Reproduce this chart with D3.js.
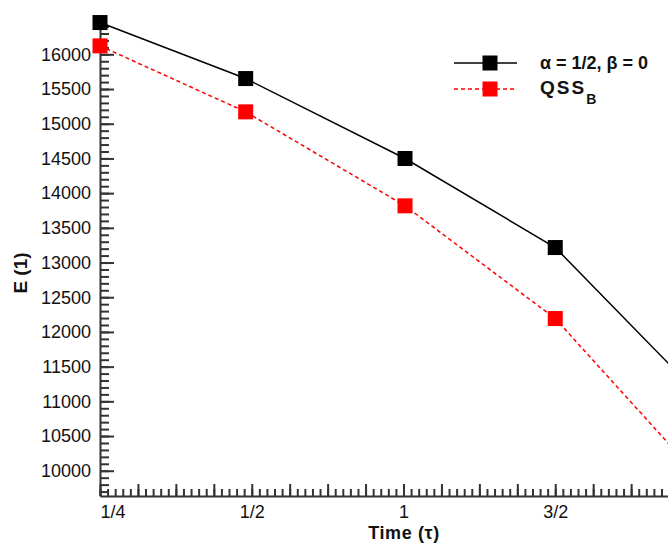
<!DOCTYPE html>
<html>
<head>
<meta charset="utf-8">
<script src="https://cdn.jsdelivr.net/npm/d3@7"></script>
<style>
  html, body { margin: 0; padding: 0; background: #fff; }
  svg { display: block; font-family: "Liberation Sans", Arial, Helvetica, sans-serif; }
</style>
</head>
<body>
<svg id="chart" width="668" height="544"></svg>
<script>
// Time positions of the samples (axis units) and energy values per scheme
const timePos = [0, 0.48, 1.005, 1.5, 2];
const energyAlpha = [16458, 15651, 14499, 13216, 10976];
const energyQSS = [16122, 15171, 13817, 12193, 9780];

// Axis tick labels
const xTickValues = [0, 0.5, 1, 1.5];
const xTickLabels = ["1/4", "1/2", "1", "3/2"];
const yTickValues = d3.range(10000, 16001, 500);
const yMinorValues = d3.range(9700, 16401, 100);
const xMajorValues = d3.range(0, 2.001, 0.125);
const xMinorValues = d3.range(0, 2.001, 0.025);

const svg = d3.select("#chart");
const axisColor = "#333";
const textColor = "#111";
const fontFamily = "'Liberation Sans', Arial, sans-serif";

const x = d3.scaleLinear().domain([0, 2]).range([100, 707]);
const y = d3.scaleLinear().domain([9636, 16450]).range([496, 23.1]);

// Y axis: minor ticks, then major ticks with labels
svg.append("g")
  .attr("transform", `translate(${x(0)},0)`)
  .call(d3.axisLeft(y).tickValues(yMinorValues).tickSize(-9).tickFormat(""))
  .call(g => g.select(".domain").remove())
  .call(g => g.selectAll("line").attr("stroke", axisColor).attr("stroke-width", 2));

svg.append("g")
  .attr("transform", `translate(${x(0)},0)`)
  .call(d3.axisLeft(y).tickValues(yTickValues).tickSize(-14).tickPadding(9)
          .tickSizeOuter(0).tickFormat(d3.format("d")))
  .call(g => g.select(".domain").attr("stroke", axisColor).attr("stroke-width", 2))
  .call(g => g.selectAll("line").attr("stroke", axisColor).attr("stroke-width", 2))
  .call(g => g.selectAll("text").attr("font-size", 18).attr("fill", textColor)
                .attr("font-family", fontFamily));

// X axis: minor ticks, then major ticks with sparse labels
svg.append("g")
  .attr("transform", `translate(0,${y(9636)})`)
  .call(d3.axisBottom(x).tickValues(xMinorValues).tickSize(-7).tickFormat(""))
  .call(g => g.select(".domain").remove())
  .call(g => g.selectAll("line").attr("stroke", axisColor).attr("stroke-width", 2));

const labelFor = v => {
  const i = xTickValues.findIndex(t => Math.abs(t - v) < 1e-9);
  return i >= 0 ? xTickLabels[i] : "";
};
svg.append("g")
  .attr("transform", `translate(0,${y(9636)})`)
  .call(d3.axisBottom(x).tickValues(xMajorValues).tickSize(-12).tickPadding(9)
          .tickSizeOuter(0).tickFormat(labelFor))
  .call(g => g.select(".domain").attr("stroke", axisColor).attr("stroke-width", 2))
  .call(g => g.selectAll("line").attr("stroke", axisColor).attr("stroke-width", 2))
  .call(g => g.selectAll("text").attr("font-size", 18).attr("fill", textColor)
                .attr("font-family", fontFamily))
  .call(g => g.selectAll(".tick").filter(d => d === 0).select("text").attr("text-anchor", "start"));

// Axis titles
svg.append("text")
  .attr("x", 404).attr("y", 539)
  .attr("text-anchor", "middle")
  .attr("font-size", 18).attr("font-weight", "bold").attr("fill", textColor)
  .attr("letter-spacing", 0.6)
  .text("Time (τ)");

svg.append("text")
  .attr("transform", "translate(27,273) rotate(-90)")
  .attr("text-anchor", "middle")
  .attr("font-size", 19).attr("font-weight", "bold").attr("fill", textColor)
  .text("E (1)");

// Series
const series = [
  { name: "alpha", values: energyAlpha, color: "#000", dash: null },
  { name: "qss", values: energyQSS, color: "#ff0000", dash: "4,3" }
];

const line = d3.line().x(d => x(d[0])).y(d => y(d[1]));
const ms = 15;

series.forEach(s => {
  const pts = timePos.map((t, i) => [t, s.values[i]]);
  svg.append("path")
    .datum(pts)
    .attr("fill", "none")
    .attr("stroke", s.color)
    .attr("stroke-width", 1.5)
    .attr("stroke-dasharray", s.dash)
    .attr("d", line);
  svg.append("g").selectAll("rect")
    .data(pts)
    .join("rect")
    .attr("x", d => x(d[0]) - ms / 2)
    .attr("y", d => y(d[1]) - ms / 2)
    .attr("width", ms).attr("height", ms)
    .attr("fill", s.color);
});

// Legend
const legend = svg.append("g");
const legendRows = [
  { color: "#000", dash: null, y: 63 },
  { color: "#ff0000", dash: "4,3", y: 89 }
];
legendRows.forEach(r => {
  legend.append("line")
    .attr("x1", 454).attr("x2", 517).attr("y1", r.y).attr("y2", r.y)
    .attr("stroke", r.color).attr("stroke-width", 1.5)
    .attr("stroke-dasharray", r.dash);
  legend.append("rect")
    .attr("x", 490 - ms / 2).attr("y", r.y - ms / 2)
    .attr("width", ms).attr("height", ms)
    .attr("fill", r.color);
});
legend.append("text")
  .attr("x", 540).attr("y", 69)
  .attr("font-size", 18).attr("font-weight", "bold").attr("fill", textColor)
  .text("α = 1/2, β = 0");
const qss = legend.append("text")
  .attr("x", 540).attr("y", 94)
  .attr("font-size", 19).attr("font-weight", "bold").attr("fill", textColor);
qss.append("tspan").attr("letter-spacing", 2).text("QSS");
qss.append("tspan").attr("font-size", 14).attr("dy", 10).text("B");
</script>
</body>
</html>
